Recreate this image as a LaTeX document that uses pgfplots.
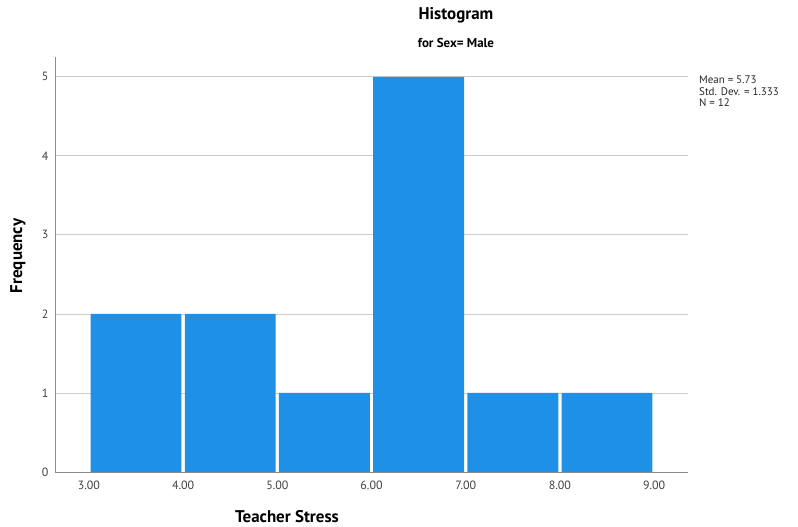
\documentclass[border=0pt]{standalone}
\usepackage{fontspec}
\setmainfont{PT Sans}
\usepackage{pgfplots}
\pgfplotsset{compat=1.18}
\definecolor{barblue}{RGB}{30,144,229}
\definecolor{axisgray}{RGB}{140,140,140}
\definecolor{gridgray}{RGB}{205,205,205}
\begin{document}
\begin{tikzpicture}
\useasboundingbox (-55bp,-55bp) rectangle (743bp,472bp);
\begin{axis}[
    at={(0,0)}, anchor=south west,
    scale only axis,
    width=633bp, height=415bp,
    xmin=2.64, xmax=9.36,
    ymin=0, ymax=5.25,
    axis x line=bottom, axis y line=left,
    axis line style={-, axisgray, line width=1bp},
    xtick={3,4,5,6,7,8,9},
    ytick={0,1,2,3,4,5},
    major tick length=0pt,
    ymajorgrids,
    major grid style={gridgray, line width=0.8bp},
    tick label style={font=\fontsize{12}{14}\selectfont, text=black!75},
    /pgf/number format/assume math mode=true,
    xticklabel style={/pgf/number format/.cd, fixed, fixed zerofill, precision=2},
    xticklabel shift=5bp,
    yticklabel shift=3bp,
]
\addplot[ybar, bar width=0.965, bar shift=0pt, fill=barblue, draw=none] coordinates {
    (3.5,2) (4.5,2) (5.5,1) (6.5,5) (7.5,1) (8.5,1)
};
\end{axis}
\node[font=\bfseries\fontsize{17}{19}\selectfont] at (401bp,457bp) {Histogram};
\node[font=\bfseries\fontsize{13}{15}\selectfont] at (401bp,429bp) {for Sex= Male};
\node[anchor=north west, align=left, inner sep=0pt, font=\fontsize{11}{11.5}\selectfont, text=black!85] at (644bp,396bp) {Mean = 5.73\\Std. Dev. = 1.333\\N = 12};
\node[font=\bfseries\fontsize{17}{19}\selectfont] at (232bp,-45bp) {Teacher Stress};
\node[font=\bfseries\fontsize{17}{19}\selectfont, rotate=90] at (-37bp,216bp) {Frequency};
\end{tikzpicture}
\end{document}
